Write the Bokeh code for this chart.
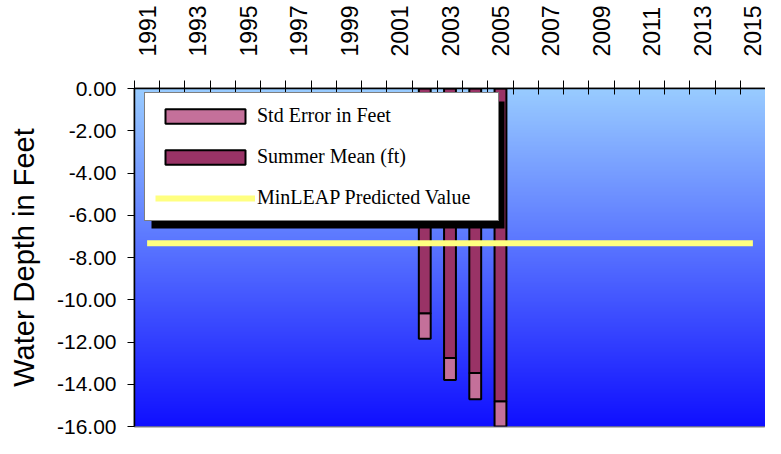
import numpy as np
from bokeh.plotting import figure
from bokeh.models import (Range1d, FixedTicker, NumeralTickFormatter, Legend,
                          LegendItem, BoxAnnotation, ColumnDataSource)
from bokeh.embed import file_html
from bokeh.resources import INLINE

# ---- data ----
years_all = list(range(1991, 2016))
label_years = list(range(1991, 2016, 2))
bar_years = [2002, 2003, 2004, 2005]
summer_mean = [-10.64, -12.76, -13.47, -14.80]
std_error = [1.21, 1.04, 1.24, 1.32]
minleap_value = -7.33
y_ticks = [0, -2, -4, -6, -8, -10, -12, -14, -16]

MAROON = "#993366"
PINK = "#C4709A"
YELLOW = "#FFFF80"

x0, x1 = years_all[0] - 0.5, years_all[-1] + 0.5
p = figure(width=765, height=438, x_range=Range1d(x0, x1),
           y_range=Range1d(min(y_ticks), max(y_ticks)),
           output_backend="svg", toolbar_location=None,
           x_axis_location="above",
           min_border_left=134, min_border_right=0,
           min_border_top=88, min_border_bottom=12)
p.grid.visible = False
p.background_fill_color = "white"
p.border_fill_color = "white"
p.outline_line_color = "#808080"
p.outline_line_width = 2

# gradient background (style only)
n = 256
t = np.linspace(0, 1, n)  # 0 bottom -> 1 top
bottom_c = np.array([16, 16, 255])
top_c = np.array([153, 204, 255])
cols = (bottom_c[None, :] * (1 - t[:, None]) + top_c[None, :] * t[:, None]).astype(np.uint32)
img = np.empty((n, 1), dtype=np.uint32)
view = img.view(dtype=np.uint8).reshape((n, 1, 4))
view[:, 0, 0] = cols[:, 0]
view[:, 0, 1] = cols[:, 1]
view[:, 0, 2] = cols[:, 2]
view[:, 0, 3] = 255
p.image_rgba(image=[img], x=x0, y=min(y_ticks), dw=x1 - x0,
             dh=max(y_ticks) - min(y_ticks))

src = ColumnDataSource(dict(
    x=bar_years,
    mean=summer_mean,
    se_bottom=[m - s for m, s in zip(summer_mean, std_error)],
))
r_se = p.vbar(x="x", width=0.47, top="mean", bottom="se_bottom", source=src,
              fill_color=PINK, line_color="black", line_width=2)
r_mean = p.vbar(x="x", width=0.47, top=0, bottom="mean", source=src,
                fill_color=MAROON, line_color="black", line_width=2)
r_line = p.line(years_all, [minleap_value] * len(years_all),
                line_color=YELLOW, line_width=6)

# top axis
xa = p.xaxis[0]
xa.ticker = FixedTicker(ticks=label_years,
                        minor_ticks=[y - 0.5 for y in years_all] + [x1])
xa.major_label_orientation = np.pi / 2
xa.major_tick_line_color = None
xa.major_tick_out = 0
xa.major_tick_in = 0
xa.minor_tick_line_color = "black"
xa.minor_tick_out = 8
xa.minor_tick_in = 6
xa.minor_tick_line_width = 1
xa.axis_line_color = "black"
xa.axis_line_width = 1.5
xa.major_label_standoff = 24
xa.major_label_text_font = "Liberation Sans"
xa.major_label_text_font_size = "23px"
xa.major_label_text_color = "black"

# left axis
ya = p.yaxis[0]
ya.ticker = FixedTicker(ticks=y_ticks)
ya.formatter = NumeralTickFormatter(format="0.00")
ya.minor_tick_line_color = None
ya.major_tick_out = 7
ya.major_tick_in = 0
ya.major_tick_line_color = "black"
ya.axis_line_color = "black"
ya.axis_line_width = 1.5
ya.major_label_standoff = 11
ya.major_label_text_font = "Liberation Sans"
ya.major_label_text_font_size = "21px"
ya.major_label_text_color = "black"
ya.axis_label = "Water Depth in Feet"
ya.axis_label_text_font = "Liberation Sans"
ya.axis_label_text_font_style = "normal"
ya.axis_label_text_font_size = "29px"
ya.axis_label_text_color = "black"
ya.axis_label_standoff = 14

# legend geometry (screen px, relative to the plot frame's bottom-left)
LEG_X, LEG_Y, LEG_W, LEG_H, SH = 10, 205, 353, 127, 7

shadow = BoxAnnotation(left=LEG_X + SH, right=LEG_X + SH + LEG_W,
                       bottom=LEG_Y - SH, top=LEG_Y - SH + LEG_H,
                       left_units="screen", right_units="screen",
                       top_units="screen", bottom_units="screen",
                       fill_color="black", fill_alpha=1.0, line_color=None)
p.add_layout(shadow)

legend = Legend(items=[
    LegendItem(label="Std Error in Feet", renderers=[r_se]),
    LegendItem(label="Summer Mean (ft)", renderers=[r_mean]),
    LegendItem(label="MinLEAP Predicted Value", renderers=[r_line]),
], location=(LEG_X, LEG_Y))
legend.background_fill_color = "white"
legend.background_fill_alpha = 1.0
legend.border_line_color = "black"
legend.border_line_width = 1.5
legend.label_text_font = "Liberation Serif"
legend.label_text_font_size = "20px"
legend.label_text_color = "black"
legend.glyph_width = 100
legend.glyph_height = 18
legend.label_height = 25
legend.label_width = 231
legend.label_standoff = 2
legend.spacing = 16
legend.padding = 10
legend.margin = 0
p.add_layout(legend)

open("out.html", "w").write(file_html(p, INLINE))
